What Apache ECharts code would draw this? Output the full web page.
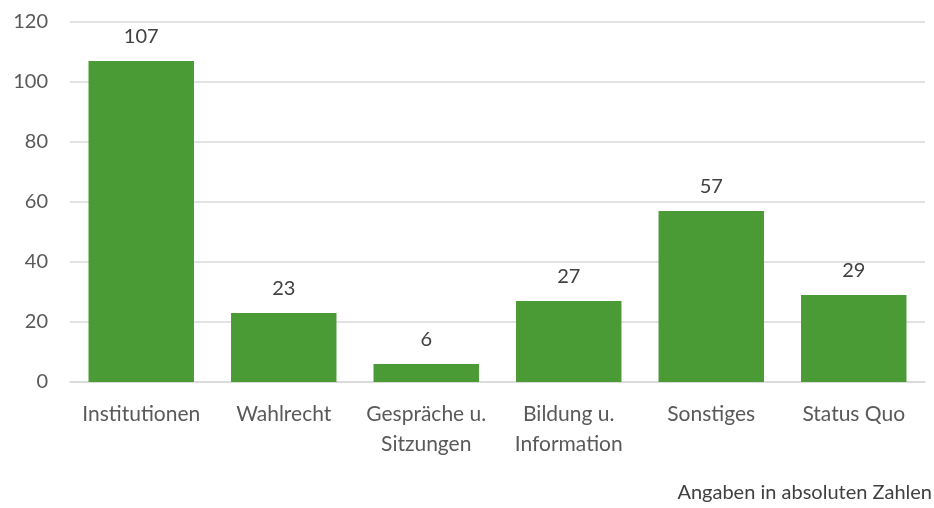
<!DOCTYPE html>
<html>
<head>
<meta charset="utf-8">
<script src="https://cdn.jsdelivr.net/npm/echarts@6/dist/echarts.min.js"></script>
<style>
  html, body { margin: 0; padding: 0; background: #fff; }
  #chart { width: 934px; height: 508px; }
</style>
</head>
<body>
<div id="chart"></div>
<script>
// Kategorien und Werte
const categories = ['Institutionen', 'Wahlrecht', 'Gespräche u.\nSitzungen', 'Bildung u.\nInformation', 'Sonstiges', 'Status Quo'];
const values = [107, 23, 6, 27, 57, 29];
const footnote = 'Angaben in absoluten Zahlen';

const font = 'Lato';
const textColor = '#595959';

const chart = echarts.init(document.getElementById('chart'));

chart.setOption({
  animation: false,
  backgroundColor: '#fff',
  grid: { left: 70, right: 9, top: 22, bottom: 126 },
  graphic: [{
    type: 'text',
    right: 2,
    bottom: 5,
    style: { text: footnote, font: '20px "' + font + '"', fill: '#404040' }
  }],
  xAxis: {
    type: 'category',
    data: categories,
    axisLine: { lineStyle: { color: '#d9d9d9', width: 1.5 } },
    axisTick: { show: false },
    axisLabel: { interval: 0, color: textColor, fontFamily: font, fontSize: 21, lineHeight: 30, margin: 17 }
  },
  yAxis: {
    type: 'value',
    min: 0,
    max: 120,
    interval: 20,
    axisLine: { show: false },
    axisTick: { show: false },
    splitLine: { lineStyle: { color: '#d9d9d9', width: 1.5 } },
    axisLabel: { color: textColor, fontFamily: font, fontSize: 20, margin: 22 }
  },
  series: [{
    type: 'bar',
    data: values,
    barWidth: '74%',
    itemStyle: { color: '#4a9a36' },
    label: {
      show: true,
      position: 'top',
      distance: 14,
      color: '#404040',
      fontFamily: font,
      fontSize: 20
    }
  }]
});
</script>
</body>
</html>
